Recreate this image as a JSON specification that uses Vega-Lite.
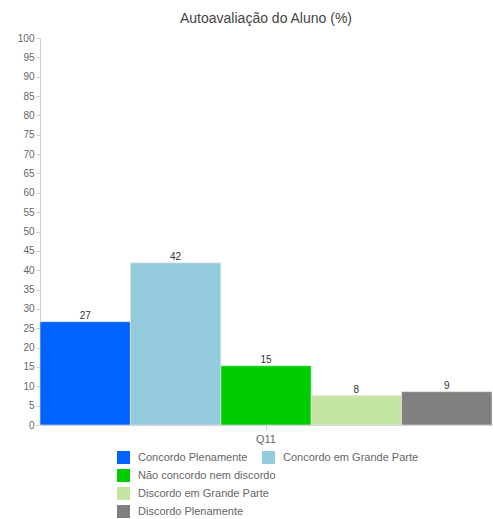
{
  "$schema": "https://vega.github.io/schema/vega-lite/v6.json",
  "autosize": {"type": "none"},
  "padding": {"left": 40, "top": 38, "right": 1, "bottom": 94},
  "width": 452,
  "height": 387,
  "background": "white",
  "title": {"text": "Autoavaliação do Aluno (%)", "font": "Liberation Sans", "fontSize": 14, "fontWeight": "normal", "color": "#444", "offset": 7, "anchor": "middle"},
  "config": {
    "view": {"stroke": null},
    "font": "Liberation Sans",
    "legend": {"symbolType": "square", "symbolSize": 169, "symbolStrokeWidth": 0, "labelFontSize": 11, "labelColor": "#666", "labelFont": "Liberation Sans", "rowPadding": 5, "columnPadding": 14, "labelOffset": 8, "labelLimit": 300, "padding": 0, "title": null}
  },
  "data": {"values": [
    {"q": "Q11", "cat": "Concordo Plenamente", "val": 26.7, "grp": "A"},
    {"q": "Q11", "cat": "Concordo em Grande Parte", "val": 41.9, "grp": "A"},
    {"q": "Q11", "cat": "Não concordo nem discordo", "val": 15.3, "grp": "B"},
    {"q": "Q11", "cat": "Discordo em Grande Parte", "val": 7.6, "grp": "B"},
    {"q": "Q11", "cat": "Discordo Plenamente", "val": 8.6, "grp": "B"}
  ]},
  "encoding": {
    "x": {"field": "q", "type": "nominal", "scale": {"paddingInner": 0, "paddingOuter": 0}, "axis": {"title": null, "labelAngle": 0, "labelColor": "#666", "labelFontSize": 11, "domainColor": "#ccc", "tickColor": "#ccc", "labelPadding": 3}},
    "xOffset": {"field": "cat", "type": "nominal", "scale": {"domain": ["Concordo Plenamente", "Concordo em Grande Parte", "Não concordo nem discordo", "Discordo em Grande Parte", "Discordo Plenamente"], "paddingInner": 0, "paddingOuter": 0}},
    "y": {"field": "val", "type": "quantitative", "scale": {"domain": [0, 100]}, "axis": {"title": null, "values": [0,5,10,15,20,25,30,35,40,45,50,55,60,65,70,75,80,85,90,95,100], "grid": false, "labelColor": "#666", "labelFontSize": 10, "domainColor": "#ccc", "tickColor": "#ccc", "tickSize": 4, "labelPadding": 2}}
  },
  "layer": [
    {
      "transform": [{"filter": "datum.grp === 'A'"}],
      "mark": {"type": "bar", "stroke": "#e8e8e8", "strokeWidth": 0.6},
      "encoding": {
        "color": {"field": "cat", "type": "nominal", "scale": {"domain": ["Concordo Plenamente", "Concordo em Grande Parte"], "range": ["#0062ff", "#94cbdd"]}, "legend": {"orient": "none", "legendX": 77, "legendY": 413, "direction": "horizontal", "columns": 2}}
      }
    },
    {
      "transform": [{"filter": "datum.grp === 'B'"}],
      "mark": {"type": "bar", "stroke": "#e8e8e8", "strokeWidth": 0.6},
      "encoding": {
        "fill": {"field": "cat", "type": "nominal", "scale": {"domain": ["Não concordo nem discordo", "Discordo em Grande Parte", "Discordo Plenamente"], "range": ["#00cc00", "#c5e5a3", "#808080"]}, "legend": {"orient": "none", "legendX": 77, "legendY": 431, "direction": "vertical"}}
      }
    },
    {
      "mark": {"type": "text", "baseline": "bottom", "dy": -1, "fontSize": 10, "color": "#333"},
      "encoding": {"text": {"field": "val", "type": "quantitative", "format": ".0f"}}
    }
  ]
}
